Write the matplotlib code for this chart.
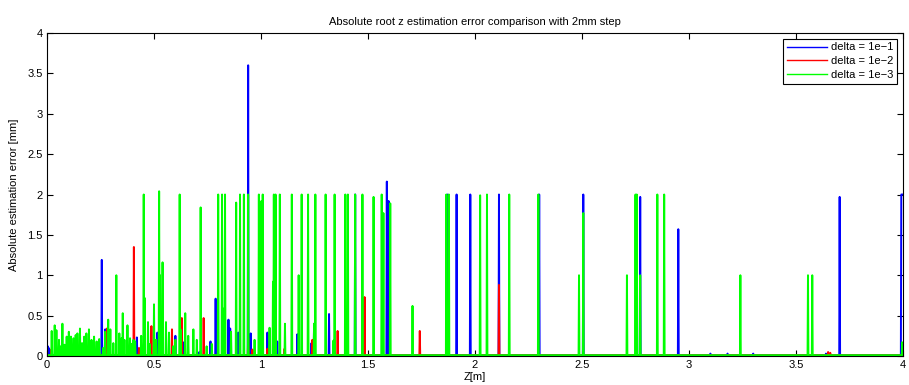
import numpy as np
import matplotlib
matplotlib.use("Agg")
import matplotlib.pyplot as plt

# z grid, 2mm step
z_start, z_stop, z_step = 0.0, 4.0, 0.002
noise_floor = 0.01

# spike positions [m] and heights [mm]
blue_z = [0.004, 0.009, 0.255, 0.271, 0.419, 0.517, 0.601, 0.64, 0.713, 0.765, 0.788,
          0.849, 0.855, 0.894, 0.94, 0.952, 1.03, 1.077, 1.17, 1.237, 1.249, 1.318,
          1.439, 1.588, 1.595, 1.872, 1.914, 1.978, 2.111, 2.30, 2.506, 2.772, 2.95,
          3.10, 3.18, 3.30, 3.64, 3.705, 3.992, 3.994, 3.996, 3.998, 4.0]
blue_h = [0.12, 0.1, 1.19, 0.33, 0.23, 0.29, 0.25, 0.17, 0.05, 0.18, 0.71,
          0.45, 0.34, 0.29, 3.6, 0.28, 0.29, 0.18, 0.27, 0.16, 0.4, 0.52,
          2.0, 2.16, 1.92, 2.0, 2.0, 2.0, 2.0, 2.0, 2.0, 1.97, 1.57,
          0.03, 0.03, 0.03, 0.03, 1.97, 2.0, 2.0, 2.0, 2.0, 2.0]

red_z = [0.02, 0.07, 0.193, 0.276, 0.28, 0.406, 0.43, 0.489, 0.583, 0.63, 0.731,
         0.82, 0.94, 0.96, 1.03, 1.11, 1.24, 1.358, 1.484, 1.742, 1.869, 2.111,
         3.65, 3.66]
red_h = [0.08, 0.1, 0.1, 0.3, 0.34, 1.35, 0.1, 0.37, 0.33, 0.47, 0.47,
         0.24, 0.22, 0.08, 0.09, 0.09, 0.2, 0.31, 0.73, 0.31, 0.57, 0.88,
         0.05, 0.04]

green_z = [0.022, 0.036, 0.045, 0.056, 0.064, 0.072, 0.082, 0.092, 0.103, 0.112,
           0.123, 0.134, 0.143, 0.154, 0.165, 0.174, 0.185, 0.196, 0.209, 0.22,
           0.232, 0.245, 0.262, 0.273, 0.287, 0.297, 0.31, 0.325, 0.338, 0.349,
           0.354, 0.362, 0.375, 0.388, 0.396, 0.403, 0.412, 0.44, 0.453, 0.456,
           0.472, 0.48, 0.501, 0.51, 0.525, 0.529, 0.539, 0.556, 0.571, 0.59,
           0.60, 0.621, 0.625, 0.646, 0.66, 0.683, 0.70, 0.718, 0.746, 0.77,
           0.80, 0.819, 0.828, 0.833, 0.86, 0.883, 0.902, 0.919, 0.94, 0.97,
           0.99, 0.996, 1.002, 1.009, 1.04, 1.055, 1.061, 1.069, 1.087, 1.089,
           1.112, 1.143, 1.177, 1.19, 1.22, 1.249, 1.254, 1.302, 1.338, 1.344,
           1.394, 1.406, 1.439, 1.474, 1.527, 1.564, 1.572, 1.603, 1.707, 1.866,
           1.878, 2.025, 2.056, 2.16, 2.297, 2.486, 2.506, 2.71, 2.75, 2.755,
           2.772, 2.853, 2.884, 3.24, 3.556, 3.575, 3.995]
green_h = [0.31, 0.38, 0.32, 0.2, 0.12, 0.40, 0.14, 0.24, 0.30, 0.24,
           0.22, 0.26, 0.28, 0.34, 0.16, 0.24, 0.28, 0.33, 0.20, 0.24,
           0.18, 0.21, 0.1, 0.3, 0.45, 0.33, 0.16, 1.0, 0.28, 0.22,
           0.53, 0.2, 0.38, 0.22, 0.15, 0.2, 0.18, 0.25, 2.0, 0.72,
           0.42, 0.15, 0.64, 0.2, 2.04, 1.0, 1.16, 0.42, 0.29, 0.12,
           0.2, 2.0, 0.33, 0.53, 0.25, 0.33, 0.2, 1.84, 0.12, 0.15,
           2.0, 2.0, 0.59, 2.0, 0.3, 1.9, 2.0, 2.0, 2.0, 0.2,
           2.0, 1.89, 1.92, 2.0, 0.35, 0.92, 2.0, 2.0, 2.0, 2.0,
           0.4, 2.0, 1.0, 2.0, 2.0, 0.4, 2.0, 2.0, 0.19, 2.0,
           2.0, 2.0, 2.0, 2.0, 1.97, 2.0, 1.77, 1.89, 0.62, 2.0,
           2.0, 1.99, 2.0, 2.0, 2.0, 1.0, 1.77, 1.0, 2.0, 2.0,
           1.0, 2.0, 2.0, 1.0, 1.0, 1.0, 0.17]

labels = ["delta = 1e\u22121", "delta = 1e\u22122", "delta = 1e\u22123"]
colors = ["#0000ff", "#ff0000", "#00ff00"]


def build_series(z, pos, heights):
    err = np.full(z.size, noise_floor)
    for p, h in zip(pos, heights):
        err[int(round(p / z_step))] = h
    return err


z = np.round(np.arange(z_start, z_stop + z_step / 2, z_step), 3)
series = [build_series(z, blue_z, blue_h),
          build_series(z, red_z, red_h),
          build_series(z, green_z, green_h)]

plt.rcParams["font.family"] = ["Liberation Sans", "DejaVu Sans"]
plt.rcParams["font.size"] = 8

fig = plt.figure(figsize=(9.09, 3.85), dpi=100)
ax = fig.add_axes([0.0517, 0.0753, 0.9417, 0.839])

for err, col, lab in zip(series, colors, labels):
    ax.plot(z, err, color=col, lw=1.4, label=lab)

ax.set_xlim(0, 4)
ax.set_ylim(0, 4)
ax.set_xticks(np.arange(0, 4.01, 0.5))
ax.set_yticks(np.arange(0, 4.01, 0.5))
ax.set_xticklabels(["0", "0.5", "1", "1.5", "2", "2.5", "3", "3.5", "4"])
ax.set_yticklabels(["0", "0.5", "1", "1.5", "2", "2.5", "3", "3.5", "4"])
ax.tick_params(direction="in", top=True, right=True, length=4, width=0.8, labelsize=8, pad=3)
for s in ax.spines.values():
    s.set_linewidth(0.8)

ax.set_title("Absolute root z estimation error comparison with 2mm step", fontsize=8, pad=6)
ax.set_xlabel("Z[m]", fontsize=8, labelpad=1)
ax.set_ylabel("Absolute estimation error [mm]", fontsize=8, labelpad=6)

leg = ax.legend(loc="upper right", fontsize=8, frameon=True, fancybox=False,
                edgecolor="black", framealpha=1, handlelength=3.6, handletextpad=0.4,
                borderaxespad=0.5, labelspacing=0.35, borderpad=0.35)
leg.get_frame().set_linewidth(0.8)
for line in leg.get_lines():
    line.set_linewidth(1.0)

fig.savefig("out.png", dpi=100)
